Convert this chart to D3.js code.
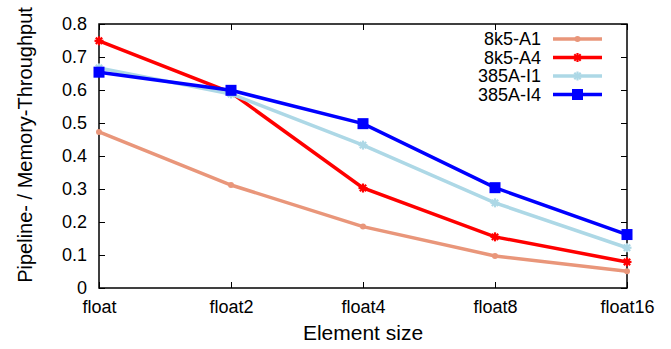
<!DOCTYPE html>
<html>
<head>
<meta charset="utf-8">
<script src="https://cdn.jsdelivr.net/npm/d3@7"></script>
<style>
  body { margin: 0; background: #fff; }
  svg { display: block; font-family: "Liberation Sans", Arial, sans-serif; }
</style>
</head>
<body>
<div id="chart"></div>
<script>
const categories = ["float", "float2", "float4", "float8", "float16"];
const seriesNames = ["8k5-A1", "8k5-A4", "385A-I1", "385A-I4"];
const valuesA1 = [0.473, 0.312, 0.186, 0.097, 0.051];
const valuesA4 = [0.749, 0.592, 0.303, 0.155, 0.079];
const valuesI1 = [0.667, 0.588, 0.433, 0.258, 0.122];
const valuesI4 = [0.654, 0.599, 0.498, 0.304, 0.162];
const yTicks = [0, 0.1, 0.2, 0.3, 0.4, 0.5, 0.6, 0.7, 0.8];

const width = 671;
const height = 349;
const margin = { top: 24, right: 44, bottom: 61, left: 99 };

const series = [
  { name: seriesNames[0], values: valuesA1, color: "#e9967a", marker: "circle" },
  { name: seriesNames[1], values: valuesA4, color: "#ff0000", marker: "star" },
  { name: seriesNames[2], values: valuesI1, color: "#add8e6", marker: "star" },
  { name: seriesNames[3], values: valuesI4, color: "#0000ff", marker: "square" },
];

const svg = d3.select("#chart").append("svg").attr("width", width).attr("height", height);

const x = d3.scalePoint().domain(categories).range([margin.left, width - margin.right]);
const y = d3.scaleLinear().domain([0, 0.8]).range([height - margin.bottom, margin.top]);

const plotW = width - margin.left - margin.right;
const plotH = height - margin.top - margin.bottom;

// axes with inward ticks, mirrored on top/right like gnuplot
svg.append("g")
  .attr("transform", `translate(0,${height - margin.bottom})`)
  .call(d3.axisBottom(x).tickSize(-6).tickPadding(12))
  .call((g) => g.select(".domain").remove());
svg.append("g")
  .attr("transform", `translate(0,${margin.top})`)
  .call(d3.axisTop(x).tickSize(-6).tickFormat(""))
  .call((g) => g.select(".domain").remove());
svg.append("g")
  .attr("transform", `translate(${margin.left},0)`)
  .call(d3.axisLeft(y).tickValues(yTicks).tickSize(-6).tickPadding(12).tickFormat(d3.format("~g")))
  .call((g) => g.select(".domain").remove());
svg.append("g")
  .attr("transform", `translate(${width - margin.right},0)`)
  .call(d3.axisRight(y).tickValues(yTicks).tickSize(-6).tickFormat(""))
  .call((g) => g.select(".domain").remove());

svg.selectAll(".tick line").attr("stroke", "#000").attr("stroke-width", 1);
svg.selectAll(".tick text").attr("fill", "#000").style("font-size", "18px")
  .style("font-family", "'Liberation Sans', Arial, sans-serif");

svg.append("rect")
  .attr("x", margin.left).attr("y", margin.top)
  .attr("width", plotW).attr("height", plotH)
  .attr("fill", "none").attr("stroke", "#000").attr("stroke-width", 1.5);

const line = d3.line().x((d, i) => x(categories[i])).y((d) => y(d));

function drawMarker(g, type, cx, cy, color) {
  if (type === "circle") {
    g.append("circle").attr("cx", cx).attr("cy", cy).attr("r", 3).attr("fill", color);
  } else if (type === "square") {
    g.append("rect").attr("x", cx - 5.5).attr("y", cy - 5.5).attr("width", 11).attr("height", 11).attr("fill", color);
  } else {
    [0, 45, 90, 135].forEach((a) => {
      const r = (a * Math.PI) / 180;
      g.append("line")
        .attr("x1", cx - 4.5 * Math.cos(r)).attr("y1", cy - 4.5 * Math.sin(r))
        .attr("x2", cx + 4.5 * Math.cos(r)).attr("y2", cy + 4.5 * Math.sin(r))
        .attr("stroke", color).attr("stroke-width", 2.2);
    });
  }
}

const plot = svg.append("g");
series.forEach((s) => {
  plot.append("path")
    .attr("d", line(s.values))
    .attr("fill", "none")
    .attr("stroke", s.color)
    .attr("stroke-width", 3.5);
  s.values.forEach((v, i) => drawMarker(plot, s.marker, x(categories[i]), y(v), s.color));
});

// legend
const legend = svg.append("g");
series.forEach((s, i) => {
  const ly = 39 + i * 18.5;
  legend.append("text")
    .attr("x", 541).attr("y", ly).attr("dy", "0.35em")
    .attr("text-anchor", "end").style("font-size", "18px").attr("fill", "#000")
    .text(s.name);
  legend.append("line")
    .attr("x1", 553).attr("x2", 602).attr("y1", ly).attr("y2", ly)
    .attr("stroke", s.color).attr("stroke-width", 3.5);
  drawMarker(legend, s.marker, 577.5, ly, s.color);
});

svg.append("text")
  .attr("x", margin.left + plotW / 2).attr("y", 340)
  .attr("text-anchor", "middle").style("font-size", "21px").attr("fill", "#000")
  .text("Element size");

svg.append("text")
  .attr("transform", `translate(32,145) rotate(-90)`)
  .attr("text-anchor", "middle").style("font-size", "20px").attr("fill", "#000")
  .text("Pipeline- / Memory-Throughput");
</script>
</body>
</html>
